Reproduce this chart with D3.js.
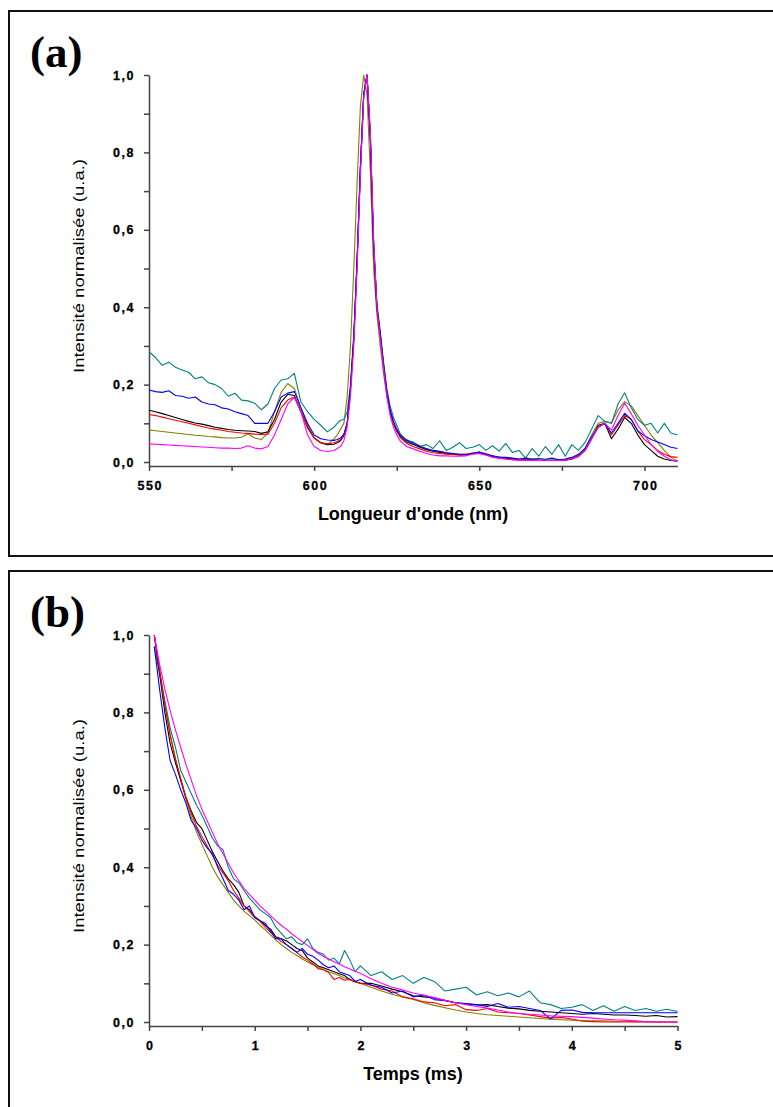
<!DOCTYPE html>
<html><head><meta charset="utf-8">
<script src="https://cdn.jsdelivr.net/npm/d3@7/dist/d3.min.js"></script>
<style>
html,body{margin:0;padding:0;background:#fff;}
svg{display:block;}
.tick text{font-family:"Liberation Sans",Arial,sans-serif;font-weight:bold;font-size:12.5px;letter-spacing:1.5px;fill:#000;stroke:#000;stroke-width:0.3px;}
</style></head>
<body>
<script>
// ---------- Panel (a): emission spectra ----------
const wavelengths = [550,552,554,556,558,560,562,564,566,568,570,572,574,576,578,580,582,584,586,588,590,592,594,596,598,600,602,604,606,
 607,608,609,610,611,612,613,614,615,616,617,618,619,620,621,622,623,624,625,626,
 628,630,632,634,636,638,640,642,644,646,648,650,652,654,656,658,660,662,664,666,668,670,672,674,676,678,680,682,684,686,688,690,692,694,696,698,700,702,704,706,708,710];

const specOlive = [.083,.081,.079,.077,.075,.073,.071,.069,.068,.066,.065,.063,.062,.062,.064,.073,.062,.058,.075,.13,.18,.203,.19,.14,.095,.062,.05,.045,.06,
 .07,.085,.1,.17,.3,.5,.72,.92,1.0,.95,.75,.5,.38,.3,.23,.17,.13,.1,.08,.07,
 .058,.05,.042,.035,.03,.027,.024,.022,.02,.02,.024,.026,.022,.016,.013,.011,.009,.008,.007,.007,.006,.006,.006,.006,.007,.01,.018,.035,.07,.1,.105,.1,.135,.156,.145,.12,.095,.07,.05,.03,.012,.003];
const specTeal = [.285,.27,.25,.258,.245,.238,.232,.215,.22,.205,.2,.19,.17,.178,.16,.158,.152,.135,.15,.19,.212,.215,.229,.155,.13,.11,.095,.078,.09,
 .1,.108,.11,.13,.2,.33,.52,.76,.95,1.0,.84,.57,.41,.34,.26,.19,.145,.115,.095,.074,
 .055,.052,.04,.045,.035,.055,.03,.038,.05,.035,.038,.045,.03,.042,.028,.048,.025,.03,.01,.035,.015,.04,.02,.045,.015,.045,.03,.05,.085,.12,.105,.1,.15,.179,.14,.11,.095,.1,.075,.1,.075,.07];
const specBlack = [.134,.13,.125,.12,.115,.11,.105,.101,.098,.094,.09,.087,.084,.082,.081,.08,.079,.074,.078,.11,.155,.175,.172,.13,.09,.062,.05,.045,.046,
 .05,.055,.068,.1,.19,.32,.52,.76,.95,1.0,.84,.56,.4,.33,.25,.18,.13,.1,.08,.066,
 .052,.045,.038,.032,.028,.025,.022,.02,.018,.018,.022,.024,.02,.014,.012,.01,.008,.006,.005,.005,.004,.004,.004,.004,.005,.008,.015,.03,.06,.095,.1,.06,.085,.115,.1,.07,.045,.03,.015,.008,.004,.002];
const specRed = [.123,.12,.116,.112,.108,.104,.1,.096,.092,.088,.085,.082,.079,.077,.075,.074,.072,.071,.072,.1,.14,.16,.168,.13,.088,.062,.05,.047,.05,
 .053,.058,.07,.1,.19,.32,.52,.76,.95,1.0,.84,.56,.4,.33,.25,.18,.13,.1,.08,.064,
 .048,.04,.034,.028,.024,.022,.02,.019,.018,.019,.022,.022,.018,.013,.01,.008,.006,.005,.005,.004,.004,.004,.004,.005,.005,.008,.015,.03,.06,.09,.1,.07,.095,.121,.11,.08,.058,.045,.03,.02,.014,.012];
const specBlue = [.186,.182,.18,.184,.172,.17,.165,.168,.155,.15,.148,.14,.137,.13,.125,.12,.1,.1,.1,.13,.168,.178,.182,.14,.1,.07,.06,.057,.056,
 .058,.062,.072,.1,.19,.32,.52,.76,.95,1.0,.84,.56,.4,.33,.25,.18,.135,.105,.085,.07,
 .056,.048,.04,.034,.03,.028,.024,.022,.02,.02,.022,.026,.02,.016,.012,.012,.01,.008,.01,.008,.009,.007,.01,.006,.008,.012,.02,.035,.065,.09,.1,.075,.1,.126,.11,.08,.068,.058,.052,.045,.038,.035];
const specMagenta = [.047,.046,.045,.044,.043,.042,.041,.04,.039,.038,.037,.036,.036,.035,.036,.042,.036,.034,.04,.07,.11,.15,.168,.13,.07,.04,.03,.027,.03,
 .035,.04,.055,.09,.17,.3,.5,.74,.94,1.0,.86,.58,.4,.32,.24,.17,.12,.09,.07,.055,
 .04,.034,.028,.022,.018,.016,.016,.015,.015,.016,.02,.022,.018,.012,.01,.008,.006,.005,.004,.004,.004,.004,.004,.004,.005,.008,.014,.03,.06,.09,.1,.083,.12,.152,.125,.095,.07,.045,.028,.015,.006,.002];

// ---------- Panel (b): decay curves ----------
const times = [0.05,0.1,0.15,0.2,0.25,0.3,0.35,0.4,0.45,0.5,0.55,0.6,0.65,0.7,0.75,0.8,0.85,0.9,0.95,1.0,1.05,1.1,1.15,1.2,1.25,1.3,1.35,1.4,1.45,1.5,1.55,1.6,1.65,1.7,1.75,1.8,1.85,1.9,1.95,2.0,
 2.1,2.2,2.3,2.4,2.5,2.6,2.7,2.8,2.9,3.0,3.1,3.2,3.3,3.4,3.5,3.6,3.7,3.8,3.9,4.0,4.1,4.2,4.3,4.4,4.5,4.6,4.7,4.8,4.9,5.0];

const decayOlive = [1.0,.91,.82,.745,.68,.625,.575,.53,.49,.46,.43,.4,.375,.355,.335,.315,.3,.286,.275,.264,.25,.238,.225,.212,.2,.19,.18,.172,.163,.155,.148,.142,.136,.13,.125,.12,.114,.109,.104,.1,
 .09,.08,.072,.065,.058,.05,.043,.037,.031,.026,.022,.019,.017,.015,.013,.011,.009,.007,.006,.005,.004,.003,.003,.002,.002,.001,.001,0,0,0];
const decayTeal = [.97,.9,.83,.76,.71,.65,.62,.59,.56,.535,.505,.475,.455,.445,.4,.37,.36,.34,.32,.305,.29,.28,.27,.245,.23,.215,.22,.205,.2,.215,.19,.18,.175,.16,.165,.15,.185,.16,.13,.145,
 .12,.13,.11,.12,.1,.115,.105,.08,.085,.09,.07,.078,.068,.075,.065,.08,.05,.045,.035,.038,.045,.03,.042,.028,.04,.03,.035,.028,.033,.027];
const decayBlack = [1.0,.9,.8,.72,.67,.625,.58,.545,.515,.5,.47,.44,.415,.39,.37,.355,.335,.3,.29,.272,.262,.25,.24,.22,.215,.21,.2,.19,.185,.165,.155,.145,.14,.135,.13,.125,.12,.11,.105,.1,
 .1,.093,.085,.078,.068,.065,.062,.056,.05,.047,.044,.045,.04,.036,.034,.03,.028,.026,.024,.022,.02,.022,.02,.018,.018,.017,.015,.017,.013,.014];
const decayRed = [1.0,.91,.82,.74,.68,.63,.58,.54,.505,.48,.455,.43,.405,.385,.365,.34,.32,.3,.285,.27,.26,.245,.232,.22,.208,.2,.19,.18,.168,.16,.15,.138,.135,.128,.11,.115,.108,.11,.104,.1,
 .096,.085,.08,.065,.06,.052,.05,.042,.045,.032,.03,.035,.026,.024,.022,.018,.014,.01,.012,.008,.002,.001,0,0,0,0,0,0,0,0];
const decayBlue = [.97,.86,.76,.675,.64,.6,.565,.52,.5,.47,.45,.435,.4,.37,.34,.33,.315,.29,.3,.27,.262,.255,.235,.215,.215,.2,.19,.18,.19,.175,.17,.16,.148,.14,.145,.13,.125,.12,.105,.11,
 .095,.09,.075,.08,.065,.07,.058,.055,.05,.048,.045,.04,.048,.038,.04,.035,.03,.008,.03,.031,.025,.024,.024,.024,.024,.024,.024,.024,.024,.024];
const decayMagenta = [1.0,.925,.86,.805,.755,.71,.665,.625,.585,.55,.52,.49,.46,.435,.41,.385,.365,.345,.33,.315,.3,.288,.275,.262,.25,.24,.228,.218,.208,.198,.188,.177,.17,.163,.156,.15,.143,.137,.131,.126,
 .112,.1,.09,.083,.075,.069,.063,.056,.05,.045,.04,.036,.031,.026,.022,.02,.018,.016,.015,.014,.012,.01,.008,.006,.005,.003,.001,0,0,0];

const seriesColors = ["#808000","#008080","#000000","#ff0000","#0000ff","#ff00ff"];
const yMajorTicks = [0,0.2,0.4,0.6,0.8,1.0];
const yMinorTicks = [0.1,0.3,0.5,0.7,0.9];
const xMajorA = [550,600,650,700];
const xMinorA = [575,625,675];
const xMajorB = [0,1,2,3,4,5];
const xMinorB = [0.5,1.5,2.5,3.5,4.5];
const yTitle = "Intensité normalisée (u.a.)";

const svg = d3.select("body").append("svg").attr("width",773).attr("height",1107);

const fmt = d => d3.format(".1f")(d).replace(".", ",");

function panel(opts){
  const {oy, xs, seriesList, xDomain, xMaj, xMin, xFmt, xTitle, letter} = opts;
  const g = svg.append("g");
  g.append("rect").attr("x",9).attr("y",oy+11).attr("width",800).attr("height",opts.frameH)
    .attr("fill","none").attr("stroke","#111").attr("stroke-width",2);
  g.append("text").attr("x",30).attr("y",oy+67).text(letter)
    .attr("font-family","'Liberation Serif','Times New Roman',serif").attr("font-weight","bold").attr("font-size",45);
  const x = d3.scaleLinear().domain(xDomain).range([149,677.5]);
  const y = d3.scaleLinear().domain([-0.01,1]).range([oy+465.9, oy+75]);
  const yAx = d3.axisLeft(y).tickValues(yMajorTicks).tickFormat(fmt).tickSize(5).tickPadding(9).tickSizeOuter(0);
  g.append("g").attr("transform","translate(149,0)").call(yAx);
  g.append("g").attr("transform","translate(149,0)").call(d3.axisLeft(y).tickValues(yMinorTicks).tickFormat("").tickSize(5).tickSizeOuter(0))
    .select(".domain").remove();
  const xAx = d3.axisBottom(x).tickValues(xMaj).tickFormat(xFmt).tickSize(5).tickPadding(10).tickSizeOuter(0);
  const gx = g.append("g").attr("transform",`translate(0,${oy+465.9})`).call(xAx);
  gx.selectAll(".tick text").attr("dx","0.75px");
  g.append("g").attr("transform",`translate(0,${oy+465.9})`).call(d3.axisBottom(x).tickValues(xMin).tickFormat("").tickSize(5).tickSizeOuter(0))
    .select(".domain").remove();
  g.selectAll(".domain, .tick line").attr("stroke","#444").attr("stroke-width",1.5);
  const line = d3.line().x((d,i)=>x(xs[i])).y(d=>y(d));
  seriesList.forEach((s,i)=>{
    g.append("path").datum(s).attr("d",line).attr("fill","none")
      .attr("stroke",seriesColors[i]).attr("stroke-width",1.1).attr("stroke-linejoin","round");
  });
  g.append("text").attr("x",413).attr("y",oy+520).attr("text-anchor","middle").text(xTitle)
    .attr("font-family","'Liberation Sans',Arial,sans-serif").attr("font-weight","bold").attr("font-size",18);
  g.append("text").attr("transform",`translate(84,${oy+373}) rotate(-90)`).attr("text-anchor","start").text(yTitle)
    .attr("font-family","'Liberation Sans',Arial,sans-serif").attr("font-size",14)
    .attr("textLength",214).attr("lengthAdjust","spacingAndGlyphs");
}

panel({oy:0, frameH:545, xs:wavelengths, seriesList:[specOlive,specTeal,specBlack,specRed,specBlue,specMagenta],
  xDomain:[550,710], xMaj:xMajorA, xMin:xMinorA, xFmt:d=>String(d), xTitle:"Longueur d'onde (nm)", letter:"(a)"});
panel({oy:560, frameH:600, xs:times, seriesList:[decayOlive,decayTeal,decayBlack,decayRed,decayBlue,decayMagenta],
  xDomain:[0,5], xMaj:xMajorB, xMin:xMinorB, xFmt:d=>String(d), xTitle:"Temps (ms)", letter:"(b)"});
</script>
</body></html>
